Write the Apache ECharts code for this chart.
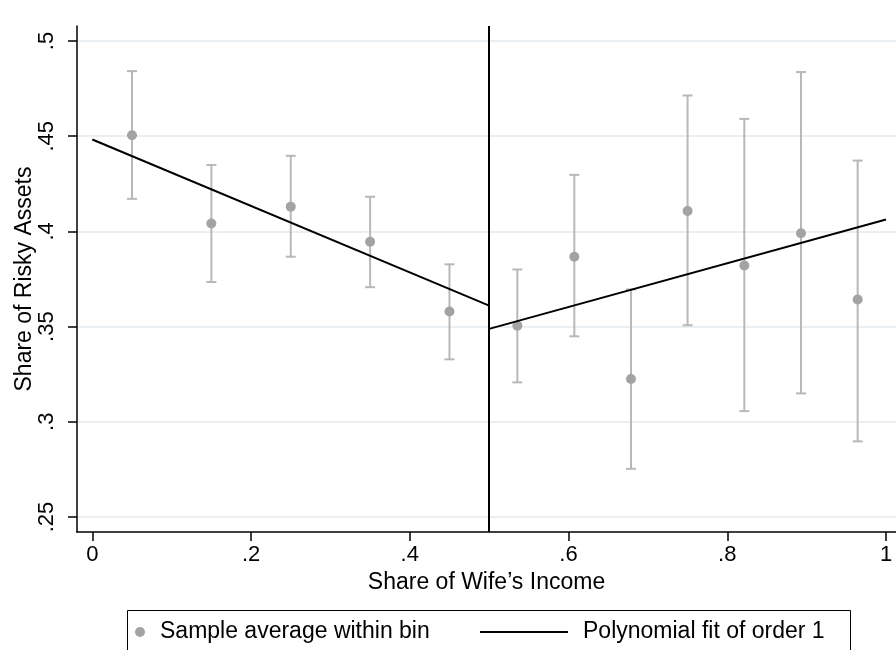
<!DOCTYPE html>
<html>
<head>
<meta charset="utf-8">
<script src="https://cdn.jsdelivr.net/npm/echarts@6/dist/echarts.min.js"></script>
<style>
html,body{margin:0;padding:0;background:#fff;}
#chart{width:896px;height:650px;}
</style>
</head>
<body>
<div id="chart"></div>
<script>
// ---- data ----
var binX    = [0.05, 0.15, 0.25, 0.35, 0.45, 0.5355, 0.6073, 0.6787, 0.75, 0.8215, 0.8929, 0.9643];
var binMean = [0.4505, 0.4042, 0.4130, 0.3946, 0.3579, 0.3505, 0.3867, 0.3225, 0.4107, 0.3821, 0.3990, 0.3642];
var ciUpper = [0.4842, 0.4349, 0.4397, 0.4182, 0.3827, 0.3800, 0.4297, 0.3695, 0.4714, 0.4591, 0.4837, 0.4372];
var ciLower = [0.4171, 0.3734, 0.3867, 0.3707, 0.3328, 0.3207, 0.3449, 0.2753, 0.3507, 0.3056, 0.3149, 0.2897];
var fitLeftX  = [0, 0.5];
var fitLeftY  = [0.4483, 0.3610];
var fitRightX = [0.5, 1];
var fitRightY = [0.3488, 0.4063];
var cutoff = 0.5;
var xTicks = [0, 0.2, 0.4, 0.6, 0.8, 1];
var xTickLabels = ['0', '.2', '.4', '.6', '.8', '1'];
var yTicks = [0.25, 0.3, 0.35, 0.4, 0.45, 0.5];
var yTickLabels = ['.25', '.3', '.35', '.4', '.45', '.5'];
var xTitle = 'Share of Wife\u2019s Income';
var yTitle = 'Share of Risky Assets';
var legendDots = 'Sample average within bin';
var legendFit = 'Polynomial fit of order 1';

// ---- layout ----
var FONT = 'Liberation Sans';
var xRange = [-0.0193, 1.0126];
var yRange = [0.2421, 0.5079];

function pairs(xs, ys) { return xs.map(function (x, i) { return [x, ys[i]]; }); }
function labelFor(vals, labels) {
  return function (v) {
    for (var i = 0; i < vals.length; i++) if (Math.abs(vals[i] - v) < 1e-9) return labels[i];
    return '';
  };
}

var chart = echarts.init(document.getElementById('chart'), null, {renderer: 'canvas'});
var option = {
  animation: false,
  backgroundColor: '#ffffff',
  textStyle: {fontFamily: FONT, color: '#000'},
  grid: {left: 77, right: 0, top: 26, bottom: 118, containLabel: false},
  xAxis: {
    type: 'value', min: xRange[0], max: xRange[1],
    name: xTitle, nameLocation: 'middle', nameGap: 39, nameMoveOverlap: false,
    nameTextStyle: {fontFamily: FONT, fontSize: 23, color: '#000'},
    axisLine: {show: true, onZero: false, lineStyle: {color: '#000', width: 1.5}},
    axisTick: {show: true, length: 9, lineStyle: {color: '#000', width: 1.5}, customValues: xTicks},
    axisLabel: {show: true, margin: 12, fontFamily: FONT, fontSize: 22, color: '#000',
      customValues: xTicks, formatter: labelFor(xTicks, xTickLabels)},
    splitLine: {show: false}
  },
  yAxis: {
    type: 'value', min: yRange[0], max: yRange[1],
    name: yTitle, nameLocation: 'middle', nameGap: 41, nameRotate: 90, nameMoveOverlap: false,
    nameTextStyle: {fontFamily: FONT, fontSize: 23, color: '#000'},
    axisLine: {show: true, onZero: false, lineStyle: {color: '#000', width: 1.5}},
    axisTick: {show: true, length: 9, lineStyle: {color: '#000', width: 1.5}, customValues: yTicks},
    axisLabel: {show: true, rotate: 90, margin: 19, fontFamily: FONT, fontSize: 22, color: '#000',
      customValues: yTicks, formatter: labelFor(yTicks, yTickLabels)},
    splitLine: {show: false}
  },
  graphic: [{
    type: 'rect', silent: true,
    shape: {x: 127.5, y: 610.5, width: 723, height: 60},
    style: {fill: 'none', stroke: '#000', lineWidth: 1}
  }],
  legend: [{
    data: [{name: legendDots, icon: 'circle', itemStyle: {color: '#a3a3a3'}}],
    left: 135, top: 620, itemWidth: 10, itemHeight: 10, padding: 0,
    textStyle: {fontFamily: FONT, fontSize: 23, color: '#000', lineHeight: 24, padding: [0, 0, 0, 10]},
    selectedMode: false
  }, {
    data: [{name: legendFit, icon: 'rect', itemStyle: {color: '#000', borderWidth: 0}}],
    left: 480, top: 620, itemWidth: 88, itemHeight: 2, padding: 0,
    textStyle: {fontFamily: FONT, fontSize: 23, color: '#000', lineHeight: 24, padding: [0, 0, 0, 10]},
    selectedMode: false
  }],
  series: [
    {
      name: 'grid', type: 'line', data: [], silent: true, z: 0,
      markLine: {
        silent: true, z: 0, symbol: ['none', 'none'], label: {show: false},
        lineStyle: {color: '#e9eff2', width: 2, type: 'solid'},
        data: yTicks.map(function (v) { return {yAxis: v}; })
      }
    },
    {
      name: 'ci', type: 'custom', z: 1, silent: true,
      data: binX.map(function (x, i) { return [x, ciLower[i], ciUpper[i]]; }),
      renderItem: function (params, api) {
        var lo = api.coord([api.value(0), api.value(1)]);
        var hi = api.coord([api.value(0), api.value(2)]);
        var capW = 5;
        var st = {stroke: '#b8b8b8', lineWidth: 2};
        return {
          type: 'group',
          children: [
            {type: 'line', shape: {x1: lo[0], y1: lo[1], x2: hi[0], y2: hi[1]}, style: st},
            {type: 'line', shape: {x1: lo[0] - capW, y1: lo[1], x2: lo[0] + capW, y2: lo[1]}, style: st},
            {type: 'line', shape: {x1: hi[0] - capW, y1: hi[1], x2: hi[0] + capW, y2: hi[1]}, style: st}
          ]
        };
      }
    },
    {
      name: legendDots, type: 'scatter', z: 3,
      symbol: 'circle', symbolSize: 10,
      itemStyle: {color: '#a3a3a3', opacity: 1},
      data: pairs(binX, binMean)
    },
    {
      name: legendFit, type: 'line', z: 4, symbol: 'none', showSymbol: false,
      lineStyle: {color: '#000', width: 2},
      data: pairs(fitLeftX, fitLeftY)
    },
    {
      name: legendFit, type: 'line', z: 4, symbol: 'none', showSymbol: false,
      lineStyle: {color: '#000', width: 2},
      data: pairs(fitRightX, fitRightY),
      markLine: {
        silent: true, z: 5, symbol: ['none', 'none'], label: {show: false},
        lineStyle: {color: '#000', width: 2, type: 'solid'},
        data: [{xAxis: cutoff}]
      }
    }
  ]
};
chart.setOption(option);
</script>
</body>
</html>
